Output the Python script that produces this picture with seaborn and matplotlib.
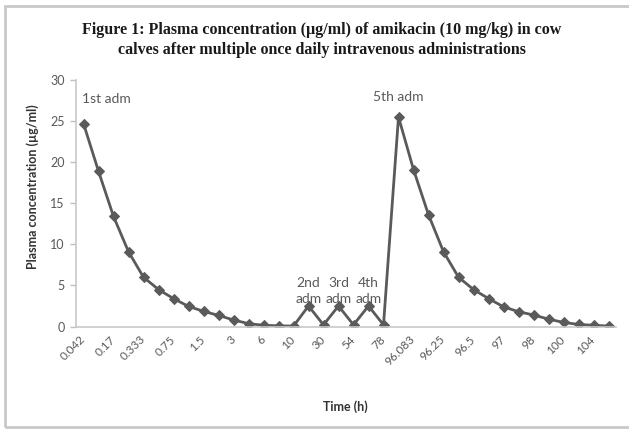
import matplotlib
matplotlib.use("Agg")
import matplotlib.pyplot as plt
import seaborn as sns
import pandas as pd
from matplotlib.patches import Rectangle

# Sampling times (h), in order of collection
time_labels = ["0.042", "0.083", "0.17", "0.25", "0.333", "0.5", "0.75", "1",
               "1.5", "2", "3", "4", "6", "8", "10", "24", "30", "48", "54",
               "72", "78", "96.042", "96.083", "96.17", "96.25", "96.333",
               "96.5", "96.75", "97", "97.5", "98", "99", "100", "102", "104",
               "106"]

# Plasma concentration (µg/ml)
concentration = [24.7, 18.9, 13.4, 9.1, 6.0, 4.5, 3.4, 2.45, 1.85, 1.35, 0.8,
                 0.35, 0.15, 0.08, 0.05, 2.5, 0.2, 2.5, 0.2, 2.5, 0.2, 25.5,
                 19.1, 13.6, 9.1, 6.0, 4.5, 3.4, 2.4, 1.8, 1.4, 0.9, 0.5,
                 0.25, 0.15, 0.05]

# Dose annotations
dose_labels = ["1st adm", "2nd\nadm", "3rd\nadm", "4th\nadm", "5th adm"]
dose_index = [0, 15, 17, 19, 21]

title = ("Figure 1: Plasma concentration (µg/ml) of amikacin (10 mg/kg) in cow\n"
         "calves after multiple once daily intravenous administrations")

sns.set_theme(style="white")
plt.rcParams["font.family"] = ["Lato", "DejaVu Sans"]

W, H = 629, 432
fig = plt.figure(figsize=(W / 100, H / 100), dpi=100)

# light outer frame
fig.patches.append(Rectangle((5 / W, 1 - 427 / H), 700 / W, (427 - 6) / H,
                             transform=fig.transFigure, fill=False,
                             edgecolor="#c9c9c9", linewidth=2.0))

ax = fig.add_axes([76 / W, 1 - 326.5 / H, (616 - 76) / W, (326.5 - 80) / H])

df = pd.DataFrame({"time": time_labels, "conc": concentration})
sns.lineplot(data=df, x="time", y="conc", sort=False, ax=ax,
             color="#5a5a5a", linewidth=2.0, marker="D", markersize=5.5,
             markeredgecolor="#5a5a5a")

ax.set_xlim(-0.5, len(time_labels) - 0.5)
ax.set_ylim(0, 30)
ax.set_yticks(range(0, 31, 5))
ax.set_xticks(range(0, len(time_labels), 2))
ax.set_xticklabels(time_labels[::2], rotation=45, ha="right", va="center",
                   rotation_mode="anchor", fontsize=8.5, color="#595959")
ax.tick_params(axis="x", length=0, pad=8)
ax.tick_params(axis="y", direction="out", length=4, width=1, color="#bfbfbf",
               labelsize=9, labelcolor="#595959", pad=4, left=True)
ax.set_xlabel("")
ax.set_ylabel("")

for side in ("top", "right"):
    ax.spines[side].set_visible(False)
for side in ("left", "bottom"):
    ax.spines[side].set_color("#c8c8c8")
    ax.spines[side].set_linewidth(1.2)

# dose annotations
for lbl, i in zip(dose_labels, dose_index):
    if "\n" in lbl:
        ax.text(i, 4.3, lbl, ha="center", va="center", fontsize=10,
                color="#595959", linespacing=1.35)
    elif i == 0:
        ax.text(i - 0.1, 27.7, lbl, ha="left", va="center", fontsize=10,
                color="#595959")
    else:
        ax.text(i, 27.9, lbl, ha="center", va="center", fontsize=10,
                color="#595959")

fig.text(322 / W, 1 - 40 / H, title, ha="center", va="center",
         family="Liberation Serif", fontweight="bold", fontsize=11.5,
         color="#1a1a1a", linespacing=1.3)
fig.text(33 / W, 1 - 187 / H, "Plasma concentration (µg/ml)", rotation=90,
         ha="center", va="center", fontweight="bold", fontsize=9,
         color="#333333")
fig.text(345 / W, 1 - 407 / H, "Time (h)", ha="center", va="center",
         fontweight="bold", fontsize=9, color="#333333")

fig.savefig("out.png", dpi=100)
